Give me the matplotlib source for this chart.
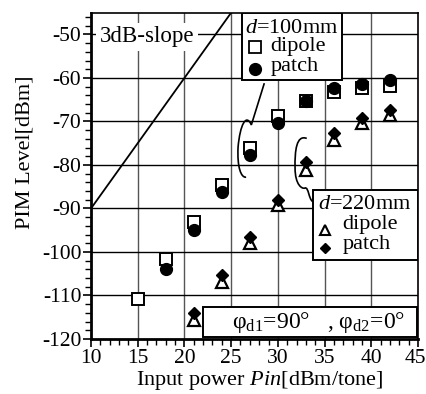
import matplotlib
matplotlib.use("Agg")
import matplotlib.pyplot as plt
import matplotlib.transforms as mtransforms
from matplotlib.path import Path
from matplotlib.patches import PathPatch, Rectangle

plt.rcParams['font.family'] = ['Liberation Serif', 'DejaVu Serif']
plt.rcParams['mathtext.fontset'] = 'custom'
plt.rcParams['mathtext.rm'] = 'Liberation Serif'
plt.rcParams['mathtext.it'] = 'Liberation Serif:italic'
plt.rcParams['axes.unicode_minus'] = False

# d = 100 mm
pin_100_dipole = [15, 18, 21, 24, 27, 30, 33, 36, 39, 42]
pim_100_dipole = [-110.8, -101.6, -93.0, -84.5, -76.0, -68.8, -65.3, -63.3, -62.4, -61.8]
pin_100_patch = [18, 21, 24, 27, 30, 33, 36, 39, 42]
pim_100_patch = [-103.9, -95.0, -86.1, -77.8, -70.3, -65.3, -62.4, -61.3, -60.5]
# d = 220 mm
pin_220_dipole = [21, 24, 27, 30, 33, 36, 39, 42]
pim_220_dipole = [-115.6, -106.8, -97.9, -89.2, -81.1, -74.3, -70.3, -68.5]
pin_220_patch = [21, 24, 27, 30, 33, 36, 39, 42]
pim_220_patch = [-114.0, -105.3, -96.5, -88.0, -79.3, -72.6, -69.3, -67.4]
# 3 dB slope reference line
slope_x = [10, 25]
slope_y = [-90, -45]

fig = plt.figure(figsize=(4.27, 3.94), dpi=100)
ax = fig.add_axes([0.2131, 0.1396, 0.7659, 0.8282])
ax.set_xlim(10, 45)
ax.set_ylim(-120, -45)

for gx in [15, 20, 25, 30, 35, 40]:
    ax.axvline(gx, color='#555555', lw=1.0, zorder=1)
for gy in [-110, -100, -90, -80, -70, -60, -50]:
    ax.axhline(gy, color='black', lw=1.0, zorder=1)

ax.plot(slope_x, slope_y, color='black', lw=1.3, zorder=2)

ax.plot(pin_100_dipole, pim_100_dipole, 's', ms=9, mfc='white', mec='black', mew=1.4, zorder=3)
ax.plot(pin_100_patch, pim_100_patch, 'o', ms=8.5, mfc='black', mec='black', zorder=4)
ax.plot(pin_220_dipole, pim_220_dipole, '^', ms=8.5, mfc='white', mec='black', mew=1.6, zorder=3)
ax.plot(pin_220_patch, pim_220_patch, 'D', ms=6.5, mfc='black', mec='black', zorder=4)

ax.set_xticks(range(10, 46, 5))
ax.set_xticks(range(10, 46, 1), minor=True)
ax.set_yticks(range(-120, -44, 10))
ax.set_yticks(range(-120, -44, 2), minor=True)
ax.tick_params(which='major', direction='out', length=6, width=1.2, labelsize=15.5, pad=1)
ax.tick_params(which='minor', direction='out', length=4, width=1.0)
for s in ['left', 'bottom']:
    ax.spines[s].set_linewidth(2.0)
for s in ['top', 'right']:
    ax.spines[s].set_linewidth(1.2)

# keep the last x tick label inside the figure
last = ax.get_xticklabels()[-1]
last.set_transform(last.get_transform() +
                   mtransforms.ScaledTranslation(-3 / 100, 0, fig.dpi_scale_trans))

ax.set_xlabel(r'Input power $\mathit{Pin}$[dBm/tone]', fontsize=16)
ax.set_ylabel('PIM Level[dBm]', fontsize=16)
ax.xaxis.set_label_coords(0.517, -0.126)
ax.yaxis.set_label_coords(-0.202, 0.573)
ax.xaxis.label.set_va('center')
ax.yaxis.label.set_va('center')

# 3dB-slope label
ax.text(10.93, -50.5, '3dB-slope', fontsize=16.5, va='center', ha='left', zorder=6,
        bbox=dict(boxstyle='square,pad=0.15', fc='white', ec='none'))

# legend box d=100mm
ax.add_patch(Rectangle((26.13, -60.46), 10.71, 15.46, fc='white', ec='black', lw=1.4, zorder=6))
ax.text(26.45, -48.6, r'$\mathit{d}$=100mm', fontsize=16, va='center', ha='left', zorder=7)
ax.plot([27.56], [-52.9], 's', ms=8, mfc='white', mec='black', mew=1.3, zorder=7)
ax.text(29.2, -52.8, 'dipole', fontsize=16, va='center', ha='left', zorder=7)
ax.plot([27.56], [-57.9], 'o', ms=8.5, mfc='black', mec='black', zorder=7)
ax.text(29.2, -57.3, 'patch', fontsize=16, va='center', ha='left', zorder=7)

# legend box d=220mm
ax.add_patch(Rectangle((33.74, -101.77), 11.26, 16.09, fc='white', ec='black', lw=1.4, zorder=6))
ax.text(34.25, -89.1, r'$\mathit{d}$=220mm', fontsize=16, va='center', ha='left', zorder=7)
ax.plot([35.05], [-94.9], '^', ms=7, mfc='white', mec='black', mew=1.5, zorder=7)
ax.plot([35.05], [-99.1], 'D', ms=5, mfc='black', mec='black', zorder=7)
ax.text(36.9, -93.7, 'dipole', fontsize=16, va='center', ha='left', zorder=7)
ax.text(36.9, -98.3, 'patch', fontsize=16, va='center', ha='left', zorder=7)

# phase box
ax.add_patch(Rectangle((22.0, -119.5), 22.9, 6.9, fc='white', ec='black', lw=1.4, zorder=6))
ax.text(34.4, -116.2, r'φ$\mathregular{_{d1}}$=90°   , φ$\mathregular{_{d2}}$=0°',
        fontsize=17, va='center', ha='center', zorder=7)

# curly connectors
verts1 = [(28.55, -61.2), (27.16, -70.8),
          (26.6, -68.0), (25.95, -70.8), (25.74, -75.9),
          (25.63, -80.5), (26.06, -83.0), (26.6, -82.8)]
codes1 = [Path.MOVETO, Path.LINETO, Path.CURVE4, Path.CURVE4, Path.CURVE4,
          Path.CURVE4, Path.CURVE4, Path.CURVE4]
ax.add_patch(PathPatch(Path(verts1, codes1), fc='none', ec='black', lw=1.2, zorder=5))

verts2 = [(33.09, -73.9),
          (32.0, -73.0), (31.8, -76.6), (31.84, -80.7),
          (31.84, -84.6), (32.6, -85.6), (32.9, -85.3),
          (33.3, -85.0), (33.3, -88.0), (33.74, -88.4)]
codes2 = [Path.MOVETO, Path.CURVE4, Path.CURVE4, Path.CURVE4,
          Path.CURVE4, Path.CURVE4, Path.CURVE4,
          Path.CURVE4, Path.CURVE4, Path.CURVE4]
ax.add_patch(PathPatch(Path(verts2, codes2), fc='none', ec='black', lw=1.2, zorder=5))

fig.savefig('out.png', dpi=100)
